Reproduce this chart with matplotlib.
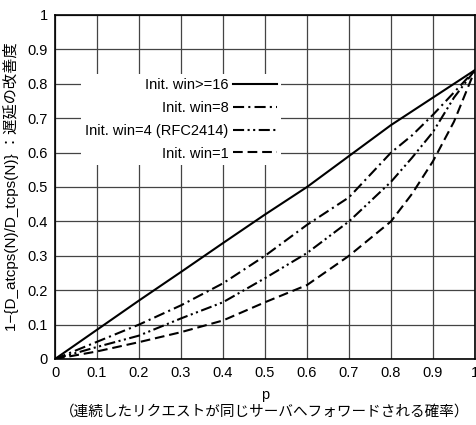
import matplotlib
matplotlib.use("Agg")
import matplotlib.pyplot as plt
import numpy as np

plt.rcParams['font.family'] = ['Liberation Sans', 'Noto Sans CJK JP', 'DejaVu Sans']
plt.rcParams['lines.scale_dashes'] = False

# Init. win>=16
p16 = [0, 0.1, 0.2, 0.3, 0.4, 0.5, 0.6, 0.7, 0.8, 0.9, 1.0]
y16 = [0, 0.085, 0.17, 0.253, 0.337, 0.42, 0.5, 0.59, 0.68, 0.76, 0.84]
# Init. win=8
p8 = [0, 0.1, 0.2, 0.3, 0.4, 0.5, 0.6, 0.7, 0.75, 0.8, 0.85, 0.9, 0.95, 1.0]
y8 = [0, 0.05, 0.1, 0.156, 0.22, 0.3, 0.39, 0.47, 0.535, 0.6, 0.65, 0.71, 0.775, 0.84]
# Init. win=4 (RFC2414)
p4 = [0, 0.1, 0.2, 0.3, 0.4, 0.5, 0.6, 0.7, 0.8, 0.85, 0.9, 0.95, 1.0]
y4 = [0, 0.035, 0.068, 0.118, 0.165, 0.235, 0.308, 0.40, 0.515, 0.585, 0.66, 0.76, 0.84]
# Init. win=1
p1 = [0, 0.1, 0.2, 0.3, 0.4, 0.5, 0.6, 0.7, 0.8, 0.85, 0.9, 0.95, 1.0]
y1 = [0, 0.022, 0.049, 0.078, 0.112, 0.165, 0.215, 0.30, 0.40, 0.48, 0.575, 0.69, 0.84]

labels = ["Init. win>=16", "Init. win=8", "Init. win=4 (RFC2414)", "Init. win=1"]
ticks = [0, 0.1, 0.2, 0.3, 0.4, 0.5, 0.6, 0.7, 0.8, 0.9, 1]
tick_labels = ["0", "0.1", "0.2", "0.3", "0.4", "0.5", "0.6", "0.7", "0.8", "0.9", "1"]

fig = plt.figure(figsize=(4.76, 4.25), dpi=100)
ax = fig.add_axes([55 / 476, 1 - 359 / 425, 420 / 476, 344 / 425])

lw = 1.5
ax.plot(p16, y16, color='black', lw=lw, ls='-', label=labels[0])
ax.plot(p8, y8, color='black', lw=lw, ls=(0, (8, 3, 1.5, 3)), label=labels[1])
ax.plot(p4, y4, color='black', lw=lw, ls=(0, (8, 2.5, 1.5, 2.5, 1.5, 2.5)), label=labels[2])
ax.plot(p1, y1, color='black', lw=lw, ls=(0, (7, 3.5)), label=labels[3])

ax.set_xlim(0, 1)
ax.set_ylim(0, 1)
ax.set_xticks(ticks)
ax.set_xticklabels(tick_labels)
ax.set_yticks(ticks)
ax.set_yticklabels(tick_labels)
ax.tick_params(length=0, labelsize=10.5, pad=5)
ax.grid(True, color='#444444', lw=0.9)
for s in ax.spines.values():
    s.set_linewidth(1.2)

leg = ax.legend(loc='upper right', bbox_to_anchor=(0.556, 0.85), markerfirst=False,
                fontsize=10.5, handlelength=3.0, handletextpad=0.3, labelspacing=0.6,
                borderpad=0.3, fancybox=False, framealpha=1, edgecolor='none')

ax.set_ylabel("1−{D_atcps(N)/D_tcps(N)} ：遅延の改善度", fontsize=11, labelpad=6)
ax.set_xlabel("p\n（連続したリクエストが同じサーバへフォワードされる確率）", fontsize=10.5,
              labelpad=6, linespacing=1.2)

plt.savefig("out.png", dpi=100)
plt.close()
